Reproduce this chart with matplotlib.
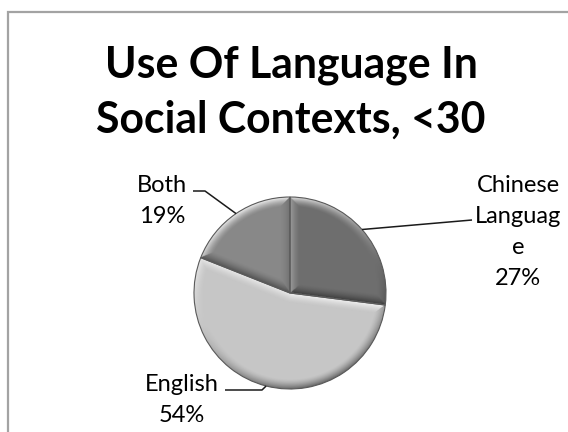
import numpy as np
import matplotlib
matplotlib.use("Agg")
import matplotlib.pyplot as plt
from matplotlib.font_manager import FontProperties
from matplotlib.patches import Wedge

# ---- data ----
labels = ["Chinese\nLanguag\ne", "English", "Both"]
values = [27, 54, 19]
colors = ["#6e6e6e", "#c6c6c6", "#888888"]
title_lines = ["Use Of Language In", "Social Contexts, <30"]

W, H = 568, 432
fig = plt.figure(figsize=(W / 100, H / 100), dpi=100)
ax = fig.add_axes([0, 0, 1, 1])


def Y(y):
    return H - y


cx, cy, R = 290, 293, 96
wedges, _ = ax.pie(values, colors=colors, startangle=90, counterclock=False,
                   center=(cx, Y(cy)), radius=R, frame=True,
                   wedgeprops=dict(edgecolor="none", linewidth=0))
ax.set_xlim(0, W)
ax.set_ylim(0, H)
ax.set_aspect("equal")
ax.axis("off")

# ---- bevel shading overlay ----
Lv = np.array([-0.35, 0.94])
Lv = Lv / np.linalg.norm(Lv)
bw = 10.0
step = 0.5
xs = np.arange(cx - R - 2, cx + R + 2, step)
ys = np.arange(Y(cy) - R - 2, Y(cy) + R + 2, step)
XX, YY = np.meshgrid(xs, ys)
DX, DY = XX - cx, YY - Y(cy)
RR = np.hypot(DX, DY)
TH = np.degrees(np.arctan2(DY, DX))
for w in wedges:
    t1, t2 = w.theta1, w.theta2
    th = (TH - t1) % 360 + t1
    a1 = np.radians(np.clip(th - t1, 0, 90))
    a2 = np.radians(np.clip(t2 - th, 0, 90))
    d0 = R - RR
    d1 = RR * np.sin(a1)
    d2 = RR * np.sin(a2)
    thr = np.radians(th)
    n0 = np.stack([np.cos(thr), np.sin(thr)], -1)
    r1, r2 = np.radians(t1), np.radians(t2)
    n1 = np.array([np.sin(r1), -np.cos(r1)])
    n2 = np.array([-np.sin(r2), np.cos(r2)])
    dots0 = n0 @ Lv
    dots1 = np.full_like(RR, n1 @ Lv)
    dots2 = np.full_like(RR, n2 @ Lv)
    D = np.stack([d0, d1, d2])
    idx = np.argmin(D, axis=0)
    dmin = np.min(D, axis=0)
    dots = np.choose(idx, [dots0, dots1, dots2])
    s = np.clip(1 - dmin / bw, 0, 1) ** 1.5
    shade = s * dots
    img = np.zeros(RR.shape + (4,))
    pos = shade > 0
    img[..., :3] = np.where(pos[..., None], 1.0, 0.0)
    img[..., 3] = np.where(pos, 0.9 * shade, 0.5 * (-shade))
    im = ax.imshow(img, extent=(xs[0], xs[-1] + step, ys[0], ys[-1] + step),
                   origin="lower", interpolation="bilinear", zorder=2)
    im.set_clip_path(w)
    ax.add_patch(Wedge(w.center, w.r, t1, t2, fill=False,
                       edgecolor="#5a5a5a", linewidth=0.8, zorder=3))
ax.set_xlim(0, W)
ax.set_ylim(0, H)

# ---- fonts / metrics ----
renderer = fig.canvas.get_renderer()
fam = "Lato"
fp10 = FontProperties(family=fam, weight="bold", size=10)
w10 = renderer.get_text_width_height_descent(title_lines[0], fp10, ismath=False)[0]
title_size = 10 * 373 / w10


def linesp(size, weight, gap):
    fp = FontProperties(family=fam, weight=weight, size=size)
    _, h, d = renderer.get_text_width_height_descent("lp", fp, ismath=False)
    return (gap - d) / (h - d)


# title: va='baseline' aligns the last line's baseline
ax.text(291, Y(133), "\n".join(title_lines), ha="center", va="baseline",
        fontsize=title_size, fontweight="bold", family=fam,
        linespacing=linesp(title_size, "bold", 55), multialignment="center",
        zorder=5)

lab_size = 17
# label layout (x center, last-line baseline, elbow points)
label_pos = [(518, 285), (182, 422), (162, 223)]
elbows = [[(472, 220)], [(262, 390), (225, 390)], [(205, 191), (193, 191)]]
for w, lab, v, (lx, ly), elb in zip(wedges, labels, values, label_pos, elbows):
    mid = np.radians((w.theta1 + w.theta2) / 2)
    ax0 = cx + R * np.cos(mid)
    ay0 = Y(cy) + R * np.sin(mid)
    px = [ax0] + [p[0] for p in elb]
    py = [ay0] + [Y(p[1]) for p in elb]
    ax.plot(px, py, color="#1a1a1a", linewidth=1.1, zorder=4,
            solid_capstyle="butt")
    ax.text(lx, Y(ly), f"{lab}\n{v}%", ha="center", va="baseline",
            fontsize=lab_size, family=fam, multialignment="center",
            linespacing=linesp(lab_size, "normal", 31), zorder=5)

# ---- chart frame ----
ax.plot([8, 8, W + 5], [Y(H + 5), Y(12), Y(12)], color="#a3a3a3",
        linewidth=1.6, solid_joinstyle="miter", zorder=1, clip_on=False)

fig.savefig("out.png", dpi=100)
